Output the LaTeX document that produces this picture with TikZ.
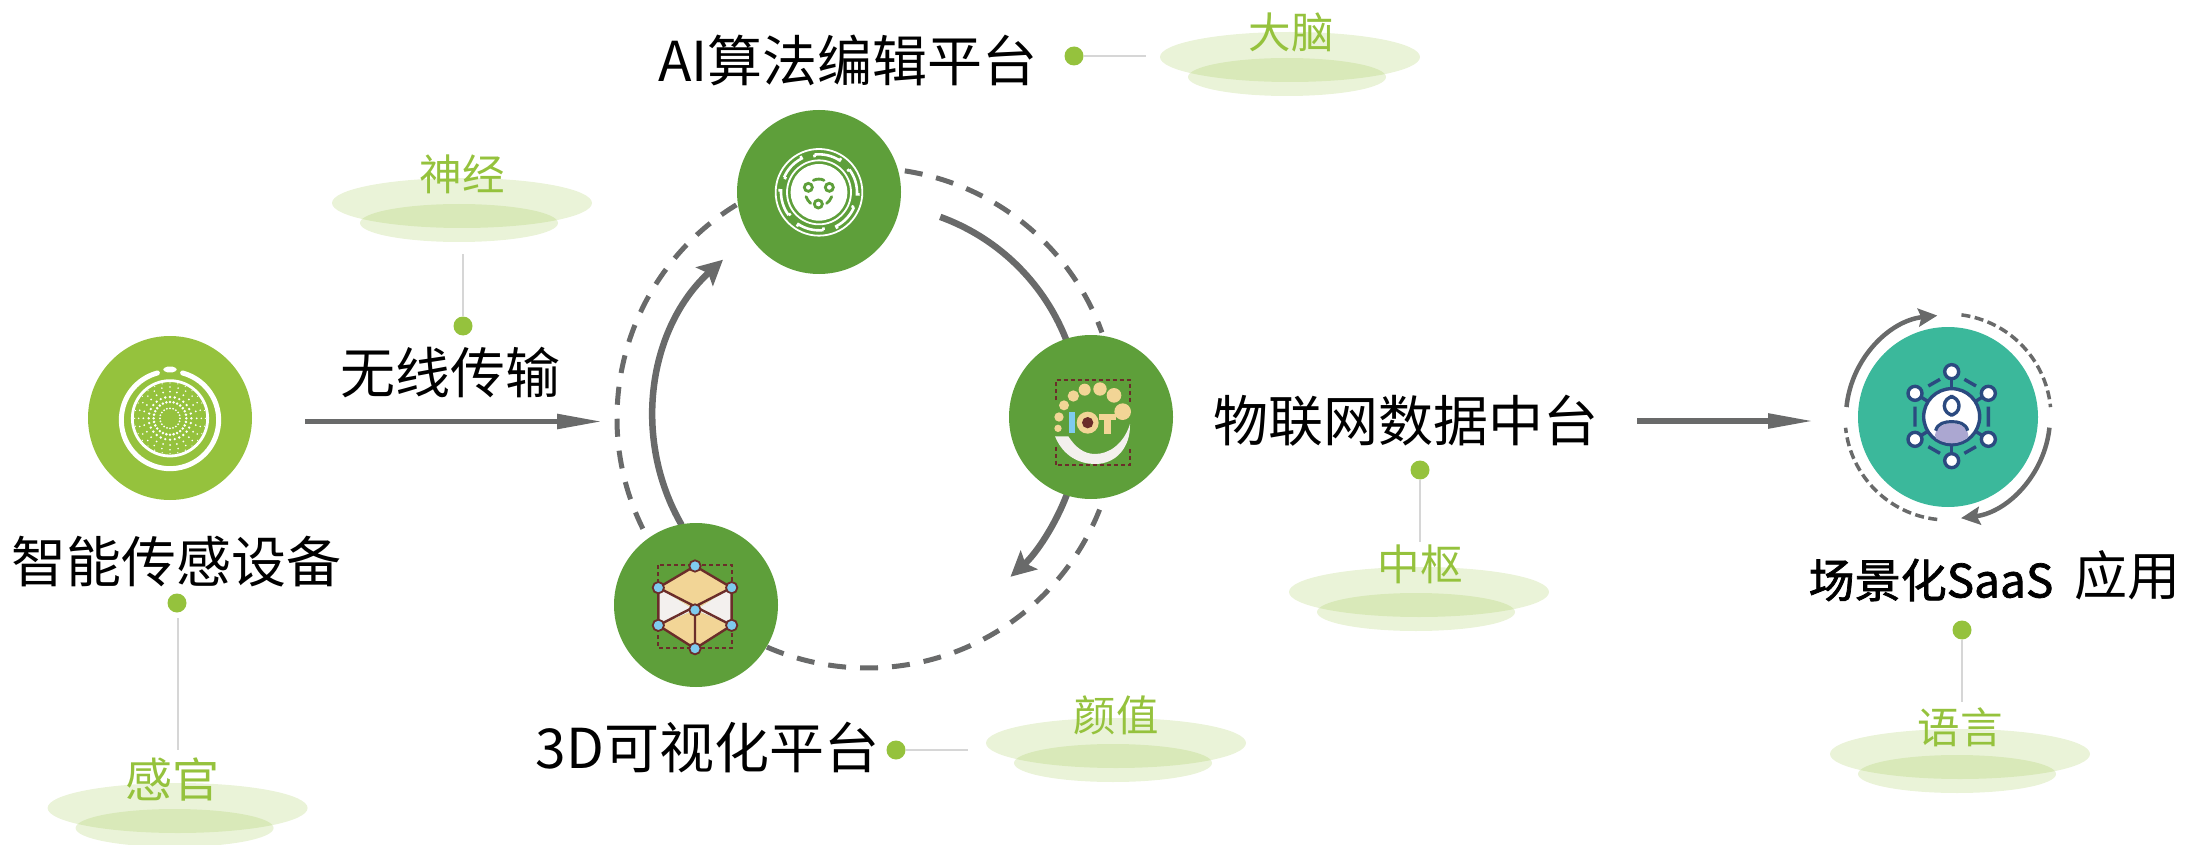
\documentclass[tikz,border=0pt]{standalone}
\usepackage{fontspec}
\setmainfont{Noto Sans CJK SC}
\newfontfamily\medf[FakeBold=1.6]{Noto Sans CJK SC}
\usetikzlibrary{arrows.meta}
\definecolor{lime}{HTML}{95C23D}
\definecolor{leaf}{HTML}{5E9F3A}
\definecolor{teal}{HTML}{3BB89B}
\definecolor{flow}{HTML}{696A6A}
\definecolor{cream}{HTML}{F2D596}
\definecolor{skyb}{HTML}{7FCBEF}
\definecolor{brownl}{HTML}{6B2D2A}
\definecolor{shell}{HTML}{F3F0EE}
\definecolor{navy}{HTML}{2B4A80}
\definecolor{lilac}{HTML}{ABA7D1}
\tikzset{
  hub/.style={circle,inner sep=0pt,minimum size=164pt},
  titlelabel/.style={inner sep=0pt,font=\fontsize{55}{55}\selectfont,text=black},
  taglabel/.style={inner sep=0pt,font=\fontsize{42.5}{42.5}\selectfont,text=lime},
  tagdot/.style={circle,inner sep=0pt,minimum size=19pt,fill=lime},
  leader/.style={draw=black!16,line width=1.6pt},
  plate/.style={fill=lime,fill opacity=.2,draw=none},
  flowline/.style={draw=flow,line width=6.5pt},
  flowdash/.style={draw=flow,line width=5pt,dash pattern=on 18pt off 14pt},
  longtip/.style={-{Stealth[length=46pt,width=14pt,inset=0pt]},draw=flow,fill=flow,line width=5.5pt},
  ringtip/.style={-{Stealth[length=25pt,width=25pt,inset=5pt]},flow},
  smalltip/.style={-{Stealth[length=19pt,width=18pt,inset=3pt]},flow,draw=flow,line width=4.5pt},
  smalldash/.style={draw=flow,line width=3.5pt,dash pattern=on 9pt off 4.5pt},
  browndash/.style={draw=brownl,line width=1.7pt,dash pattern=on 4pt off 3pt},
}
\newcommand{\arcfrom}[5]{% center x,y, start, end, radius
  ({#1+#5*cos(#3)},{#2+#5*sin(#3)}) arc[start angle=#3,end angle=#4,radius=#5]}
\newcommand{\plateat}[3]{% name, x, y of big plate centre
  \path[plate] (#2,#3) ellipse (130 and 25);
  \path[plate] ({#2-3},{#3+20}) ellipse (99 and 19);
}
\begin{document}
\begin{tikzpicture}[x=1pt,y=1pt,yscale=-1]
\path[use as bounding box] (0,0) rectangle (2185,845);
\clip (0,0) rectangle (2185,845);

% rings in the middle
\path[flowdash] \arcfrom{867}{418}{-81.3}{-20}{250};
\path[flowdash] \arcfrom{867}{418}{113.6}{21.5}{250};
\path[flowdash] \arcfrom{867}{418}{238.5}{153.2}{250};
\draw[flowline,ringtip] \arcfrom{867}{418}{-70}{47.9}{214};
\draw[flowline,ringtip] \arcfrom{867}{418}{150}{227.7}{214};

% hubs
\node[hub,fill=lime] (sensor) at (170,418) {};
\node[hub,fill=leaf] (ai) at (819,192) {};
\node[hub,fill=leaf] (iot) at (1091,417) {};
\node[hub,fill=leaf] (threed) at (696,605) {};
\node[hub,fill=teal,minimum size=180pt] (saas) at (1948,417) {};

% sensor icon
\begin{scope}[shift={(60,320)},scale=0.33333]
  \draw[white,line width=5pt,line cap=round] \arcfrom{330}{300}{-75}{255}{146};
  \fill[white,rounded corners=4pt] (310,140) rectangle (350,157);
  \draw[white,line width=2.8pt] (330,295) circle (113);
  \foreach \r/\n/\d in {30/20/3,49/28/4.2,64/28/4,80/24/3,94/24/2.6,106/28/2}{
    \foreach \k in {1,...,\n}{
      \fill[white] ({330+\r*cos(360*\k/\n)},{295+\r*sin(360*\k/\n)}) circle (\d);
    }
  }
\end{scope}

% AI icon
\begin{scope}[shift={(720,100)},scale=0.33333]
  \fill[white] (297,277) circle (85);
  \draw[white,line width=1.8pt] (297,277) circle (96);
  \draw[white,line width=1.8pt] (297,277) circle (130);
  \foreach \a in {-77,-17,43,103,163,223}{
    \draw[white,line width=2.6pt] \arcfrom{297}{277}{\a-20}{\a+20}{114}
      -- ({297+122*cos(\a+20)},{277+122*sin(\a+20)});
    \draw[white,line width=2.6pt] ({297+106*cos(\a-20)},{277+106*sin(\a-20)}) -- ({297+114*cos(\a-20)},{277+114*sin(\a-20)});
  }
  \draw[leaf,line width=2.8pt] (265,262) circle (12) (328,262) circle (12) (295,312) circle (12);
  \draw[leaf,line width=2.8pt,line cap=round] (280,241) .. controls (290,236) and (304,236) .. (312,241);
  \draw[leaf,line width=2.8pt,line cap=round] (258,290) .. controls (261,298) and (266,305) .. (272,310);
  \draw[leaf,line width=2.8pt,line cap=round] (320,310) .. controls (327,305) and (332,298) .. (335,290);
\end{scope}

% IOT icon
\begin{scope}[shift={(1000,320)},scale=0.33333]
  \draw[browndash] (167,240) -- (167,180) -- (390,180) -- (390,250);
  \draw[browndash] (167,380) -- (167,435) -- (390,435) -- (390,385);
  \fill[shell] (165,349) .. controls (190,410) and (240,432) .. (285,432)
     .. controls (350,432) and (392,380) .. (390,312)
     .. controls (370,375) and (325,402) .. (285,402)
     .. controls (250,402) and (225,380) .. (205,349) -- cycle;
  \foreach \x/\y/\r in {174/325/11,177/291/14,192/256/15,220/228/17,254/209/18,300/207/20,342/226/22,368/275/25}{
    \fill[cream] (\x,\y) circle (\r);
  }
  \fill[skyb] (207,275) rectangle (224,340);
  \fill[cream] (263,308) circle (33);
  \fill[brownl] (263,308) circle (17);
  \fill[cream] (297,283) rectangle (347,300);
  \fill[cream] (313,283) rectangle (332,341);
\end{scope}

% 3D icon
\begin{scope}[shift={(600,510)},scale=0.33333]
  \draw[browndash] (175,165) rectangle (395,415);
  \fill[cream] (285,168) -- (395,233) -- (285,300) -- (175,233) -- cycle;
  \fill[cream] (175,346) -- (285,300) -- (395,346) -- (285,416) -- cycle;
  \fill[shell] (175,233) -- (285,300) -- (175,346) -- cycle;
  \fill[shell] (395,233) -- (285,300) -- (395,346) -- cycle;
  \draw[brownl,line width=2.4pt,line join=round] (285,168) -- (395,233) -- (395,346) -- (285,416) -- (175,346) -- (175,233) -- cycle;
  \draw[brownl,line width=2.4pt] (175,233) -- (395,346) (395,233) -- (175,346) (285,300) -- (285,416);
  \foreach \x/\y in {285/168,175/233,395/233,175/346,395/346,285/416,285/300}{
    \filldraw[fill=skyb,draw=brownl,line width=1.8pt] (\x,\y) circle (17);
  }
\end{scope}

% SaaS rings
\draw[smalltip] \arcfrom{1948}{417}{185.6}{264}{102};
\draw[smalltip] \arcfrom{1948}{417}{6}{82.7}{102};
\path[smalldash] \arcfrom{1948}{417}{-82.5}{-5.5}{103};
\path[smalldash] \arcfrom{1948}{417}{96}{174}{103};

% SaaS icon
\begin{scope}[shift={(1830,300)},scale=0.33333]
  \draw[navy,line width=3.4pt] (365,215) -- (365,480);
  \draw[navy,line width=3.4pt] (255,280) -- (475,418) (475,280) -- (255,418);
  \draw[navy,line width=3.4pt] (295,258) -- (330,238) (403,238) -- (438,258)
    (255,320) -- (255,380) (475,320) -- (475,380)
    (295,440) -- (330,460) (403,460) -- (438,440);
  \filldraw[fill=white,draw=navy,line width=3.4pt] (365,350) circle (84);
  \begin{scope}
    \clip (365,350) circle (80);
    \fill[lilac] (365,405) ellipse (50 and 35);
    \draw[navy,line width=3.2pt] (317,392) .. controls (322,370) and (345,365) .. (365,365)
       .. controls (385,365) and (408,370) .. (413,392);
  \end{scope}
  \draw[navy,line width=3.4pt,rounded corners=9pt] (343,290) rectangle (387,345);
  \foreach \x/\y in {365/215,255/280,475/280,255/418,475/418,365/482}{
    \filldraw[fill=white,draw=navy,line width=3.4pt] (\x,\y) circle (21);
  }
\end{scope}

% arrows
\coordinate (wlstart) at (305,421.5);
\coordinate (wlend) at (603,421.5);
\coordinate (mdstart) at (1637,421);
\coordinate (mdend) at (1814,421);
\draw[longtip] (wlstart) -- (wlend);
\draw[longtip] (mdstart) -- (mdend);

% plates
\plateat{a}{177.6}{808}
\plateat{b}{462}{203}
\plateat{c}{1290}{57}
\plateat{d}{1419}{592}
\plateat{e}{1116}{743}
\plateat{f}{1960}{754}

% titles
\node[titlelabel] (tsensor) at (176.5,562) {智能传感设备};
\node[titlelabel] (twl) at (450,373) {无线传输};
\node[titlelabel] (tai) at (848,60) {AI算法编辑平台};
\node[titlelabel] (tmid) at (1405.5,421) {物联网数据中台};
\node[titlelabel] (tthreed) at (707.5,748) {3D可视化平台};
\node[inner sep=0pt,font=\fontsize{46}{46}\selectfont\medf,text=black] (tsaas) at (1931,580) {场景化SaaS};
\node[inner sep=0pt,font=\fontsize{53}{53}\selectfont,text=black] (tapp) at (2127.5,575) {应用};

% tags
\node[taglabel,font=\fontsize{47}{47}\selectfont] (lsensor) at (172.5,779) {感官};
\node[taglabel] (lwl) at (462,174) {神经};
\node[taglabel] (lai) at (1291,32) {大脑};
\node[taglabel] (lmid) at (1420,564) {中枢};
\node[taglabel] (lthreed) at (1116,715) {颜值};
\node[taglabel] (lsaas) at (1960,727) {语言};

% dots and leaders
\node[tagdot] (dsensor) at (177,603) {};
\node[tagdot] (dwl) at (463,326) {};
\node[tagdot] (dai) at (1074,56) {};
\node[tagdot] (dmid) at (1420,470) {};
\node[tagdot] (dthreed) at (896,750) {};
\node[tagdot] (dsaas) at (1962,630) {};
\coordinate (esensor) at (178,750);
\coordinate (ssensor) at (178,618);
\coordinate (ewl) at (463,254);
\coordinate (eai) at (1146,56);
\coordinate (emid) at (1420,542);
\coordinate (ethreed) at (968,750);
\coordinate (esaas) at (1962,702);
\draw[leader] (ssensor) -- (esensor);
\draw[leader] (dwl) -- (ewl);
\draw[leader] (dai) -- (eai);
\draw[leader] (dmid) -- (emid);
\draw[leader] (dthreed) -- (ethreed);
\draw[leader] (dsaas) -- (esaas);
\end{tikzpicture}
\end{document}
